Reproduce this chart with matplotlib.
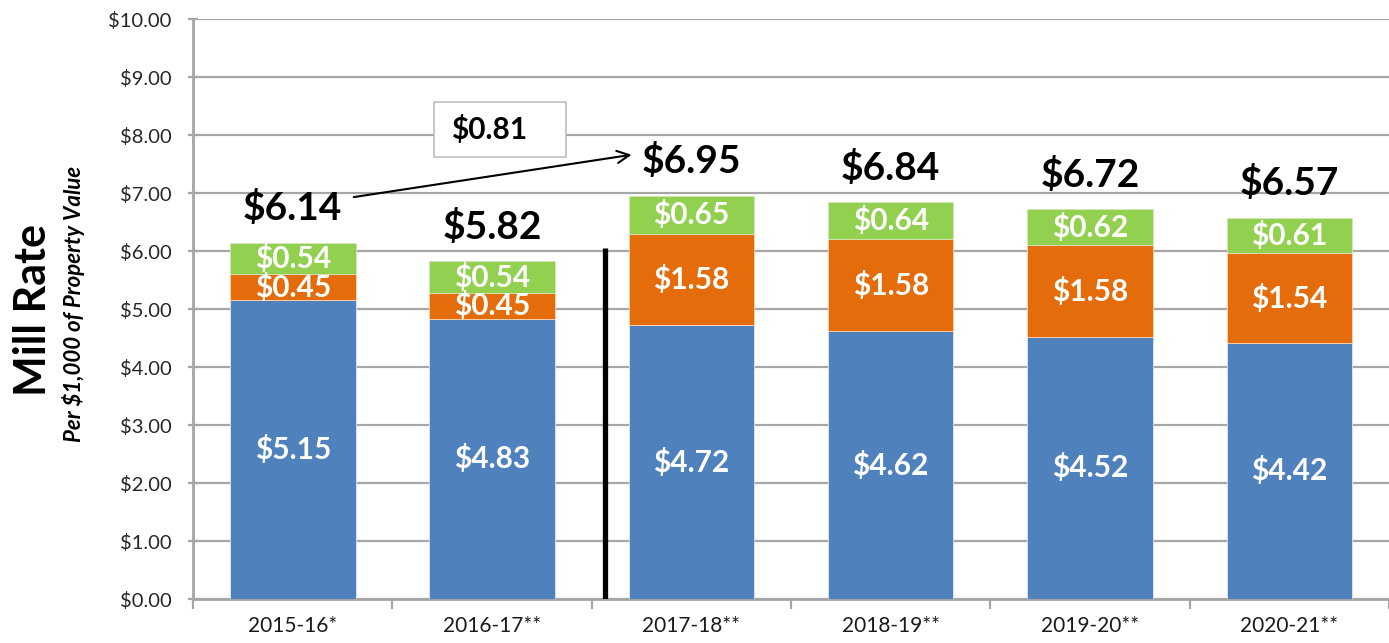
import matplotlib
matplotlib.use("Agg")
import matplotlib.pyplot as plt
from matplotlib.patches import Rectangle
import numpy as np

years = ["2015-16*", "2016-17**", "2017-18**", "2018-19**", "2019-20**", "2020-21**"]
base_rate = [5.15, 4.83, 4.72, 4.62, 4.52, 4.42]
second_rate = [0.45, 0.45, 1.58, 1.58, 1.58, 1.54]
third_rate = [0.54, 0.54, 0.65, 0.64, 0.62, 0.61]
totals = [6.14, 5.82, 6.95, 6.84, 6.72, 6.57]
change_label = "$0.81"
y_ticks = [0, 1, 2, 3, 4, 5, 6, 7, 8, 9, 10]

BLUE = "#4F81BD"
ORANGE = "#E46C0A"
GREEN = "#92D050"
GRID = "#A6A6A6"
FONT = "Lato"
SEG_SIZE = 21.5

plt.rcParams["font.family"] = [FONT, "DejaVu Sans"]

fig = plt.figure(figsize=(13.89, 6.43), dpi=100)
ax = fig.add_axes([0.139, 0.0684, 0.861, 0.902])

x = np.arange(len(years))
width = 0.63
b1 = np.array(base_rate)
b2 = np.array(second_rate)
b3 = np.array(third_rate)

ax.bar(x, b1, width, color=BLUE, edgecolor="#DCE6F2", linewidth=0.6, zorder=3)
ax.bar(x, b2, width, bottom=b1, color=ORANGE, edgecolor="#FBD5B5", linewidth=0.6, zorder=3)
ax.bar(x, b3, width, bottom=b1 + b2, color=GREEN, edgecolor="#D7E4BD", linewidth=0.6, zorder=3)

# segment labels
for i in range(len(years)):
    ax.text(x[i], b1[i] / 2, f"${b1[i]:.2f}", ha="center", va="center",
            color="white", fontsize=SEG_SIZE, fontweight="bold", zorder=5)
    ax.text(x[i], b1[i] + b2[i] / 2, f"${b2[i]:.2f}", ha="center", va="center",
            color="white", fontsize=SEG_SIZE, fontweight="bold", zorder=6)
    ax.text(x[i], b1[i] + b2[i] + b3[i] / 2, f"${b3[i]:.2f}", ha="center", va="center",
            color="white", fontsize=SEG_SIZE, fontweight="bold", zorder=7)
    ax.annotate(f"${totals[i]:.2f}", (x[i], totals[i]), xytext=(0, 25),
                textcoords="offset points", ha="center", va="center",
                fontsize=28, fontweight="bold", color="black", zorder=6)

# change arrow and box
ax.annotate("", xy=(1.70, 7.66), xytext=(0.306, 6.93),
            arrowprops=dict(arrowstyle="->", color="black", lw=1.5,
                            mutation_scale=22, shrinkA=0, shrinkB=0), zorder=6)
ax.add_patch(Rectangle((0.709, 7.62), 0.662, 0.95, facecolor="white",
                       edgecolor="#BFBFBF", linewidth=1.2, zorder=4))
ax.text(0.794, 8.09, change_label, ha="left", va="center", fontsize=SEG_SIZE,
        fontweight="bold", color="black", zorder=5)

# separator line
ax.plot([1.565, 1.565], [0, 6.05], color="black", lw=3.8, zorder=6,
        solid_capstyle="butt")

ax.set_xlim(-0.5, 5.45)
ax.set_ylim(0, 10)
ax.set_yticks(y_ticks)
ax.set_yticklabels([f"${v:.2f}" for v in y_ticks])
ax.yaxis.grid(True, color=GRID, linewidth=1.6, zorder=0)
ax.set_axisbelow(True)

ax.set_xticks(x)
ax.set_xticklabels(years)
ax.set_xticks(np.arange(-0.5, 6, 1), minor=True)
ax.tick_params(axis="x", which="major", length=0, pad=12, labelsize=15, labelcolor="#1a1a1a")
ax.tick_params(axis="x", which="minor", length=7, width=1.6, color=GRID, direction="out")
ax.tick_params(axis="y", length=7, width=1.6, color=GRID, direction="inout",
               labelsize=14.5, labelcolor="#262626", pad=12)

for side in ["top", "right"]:
    ax.spines[side].set_visible(False)
for side in ["left", "bottom"]:
    ax.spines[side].set_color(GRID)
    ax.spines[side].set_linewidth(2)

fig.text(0.024, 0.518, "Mill Rate", rotation=90, ha="center", va="center",
         fontsize=31, fontweight="bold", color="black")
fig.text(0.053, 0.528, "Per $1,000 of Property Value", rotation=90, ha="center",
         va="center", fontsize=16, fontweight="bold", fontstyle="italic", color="black")

fig.savefig("out.png", dpi=100)
